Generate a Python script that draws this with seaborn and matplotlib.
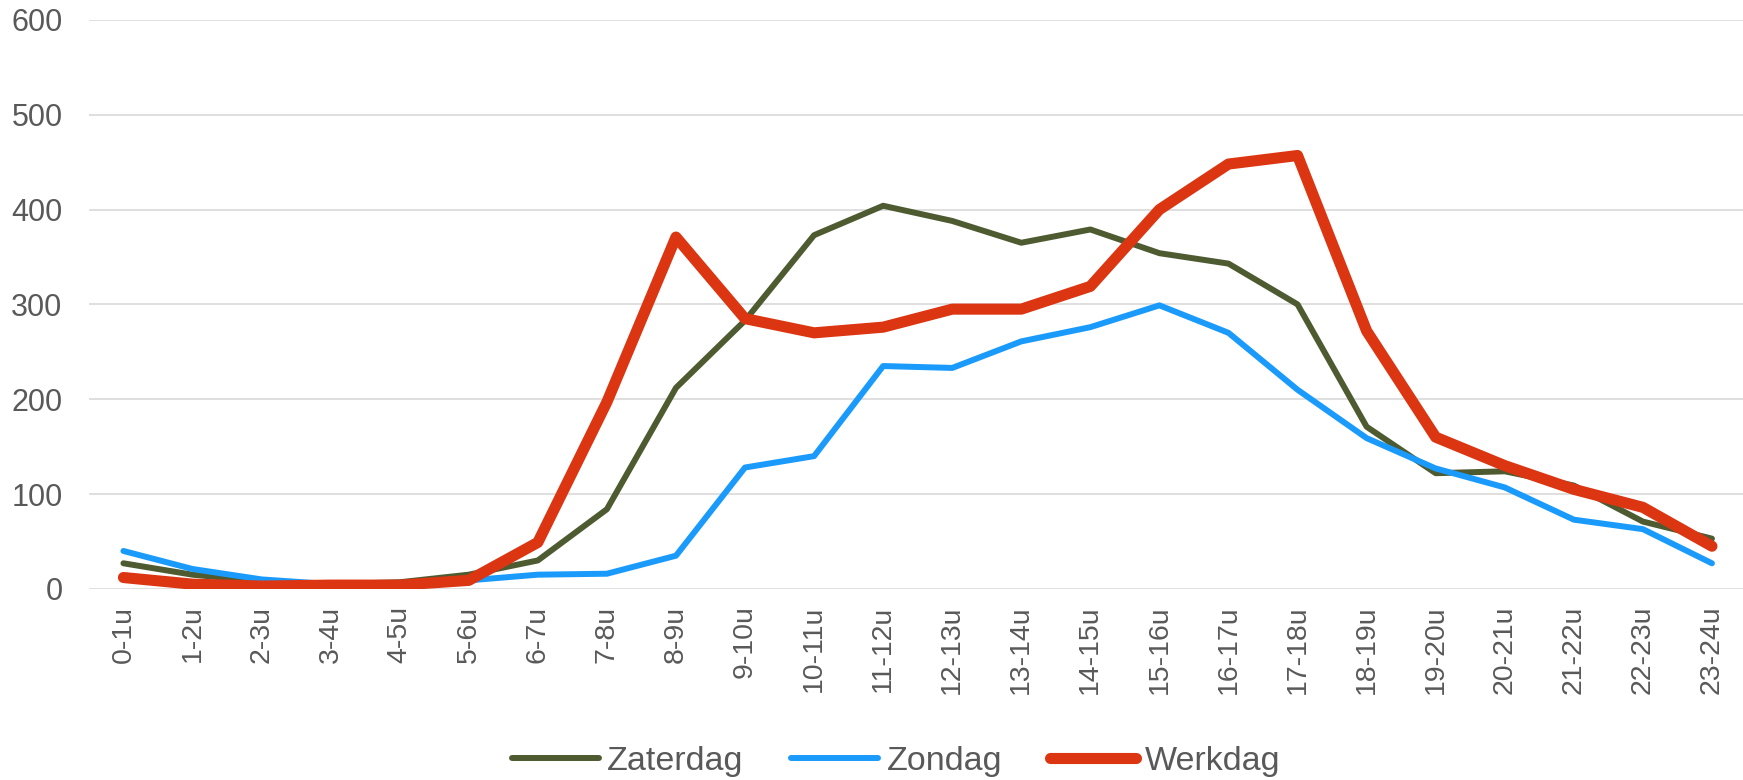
import pandas as pd
import numpy as np
from matplotlib import pyplot as plt
import seaborn as sns

# Data
hours = ["0-1u", "1-2u", "2-3u", "3-4u", "4-5u", "5-6u", "6-7u", "7-8u", "8-9u", "9-10u",
         "10-11u", "11-12u", "12-13u", "13-14u", "14-15u", "15-16u", "16-17u", "17-18u",
         "18-19u", "19-20u", "20-21u", "21-22u", "22-23u", "23-24u"]
zaterdag = [27, 15, 8, 5, 7, 15, 30, 84, 212, 283, 373, 404, 388, 365, 379, 354,
            343, 300, 171, 122, 124, 109, 71, 53]
zondag = [40, 21, 10, 5, 4, 9, 15, 16, 35, 128, 140, 235, 233, 261, 276, 299,
          270, 210, 159, 127, 107, 73, 63, 27]
werkdag = [12, 5, 3, 4, 4, 9, 49, 197, 371, 285, 270, 276, 295, 295, 319, 400,
           448, 457, 272, 160, 130, 105, 86, 45]

df = pd.DataFrame({"uur": hours * 3,
                   "aantal": zaterdag + zondag + werkdag,
                   "dag": ["Zaterdag"] * 24 + ["Zondag"] * 24 + ["Werkdag"] * 24})
df["pos"] = list(range(24)) * 3

colors = {"Zaterdag": "#4E5B31", "Zondag": "#1A9BFC", "Werkdag": "#DC3512"}
widths = {"Zaterdag": 4.3, "Zondag": 4.3, "Werkdag": 8.0}

sns.set_theme(style="whitegrid")
plt.rcParams["font.family"] = ["Liberation Sans", "DejaVu Sans"]

fig = plt.figure(figsize=(17.43, 7.8), dpi=100)
ax = fig.add_axes([0.051, 0.245, 0.951, 0.7295])

for dag in ["Zaterdag", "Zondag", "Werkdag"]:
    sns.lineplot(data=df[df["dag"] == dag], x="pos", y="aantal", color=colors[dag],
                 linewidth=widths[dag], label=dag, ax=ax,
                 solid_joinstyle="round", solid_capstyle="round")

ax.set_xlim(-0.5, 23.5)
ax.set_ylim(0, 600)
ax.set_yticks(range(0, 601, 100))
ax.set_xticks(range(24))
ax.set_xticklabels(hours, rotation=90)
ax.set_xlabel("")
ax.set_ylabel("")
ax.grid(axis="y", color="#D9D9D9", linewidth=1.2)
ax.grid(axis="x", visible=False)
for s in ax.spines.values():
    s.set_visible(False)
ax.tick_params(axis="y", length=0, pad=19, labelsize=22, labelcolor="#595959")
ax.tick_params(axis="x", length=0, pad=12, labelsize=20.5, labelcolor="#595959")

ax.legend(loc="center", bbox_to_anchor=(0.487, -0.304), ncol=3, frameon=False,
          fontsize=24.5, handlelength=2.55, columnspacing=1.4, handletextpad=0.25,
          labelcolor="#595959")

plt.savefig("out.png", dpi=100)
